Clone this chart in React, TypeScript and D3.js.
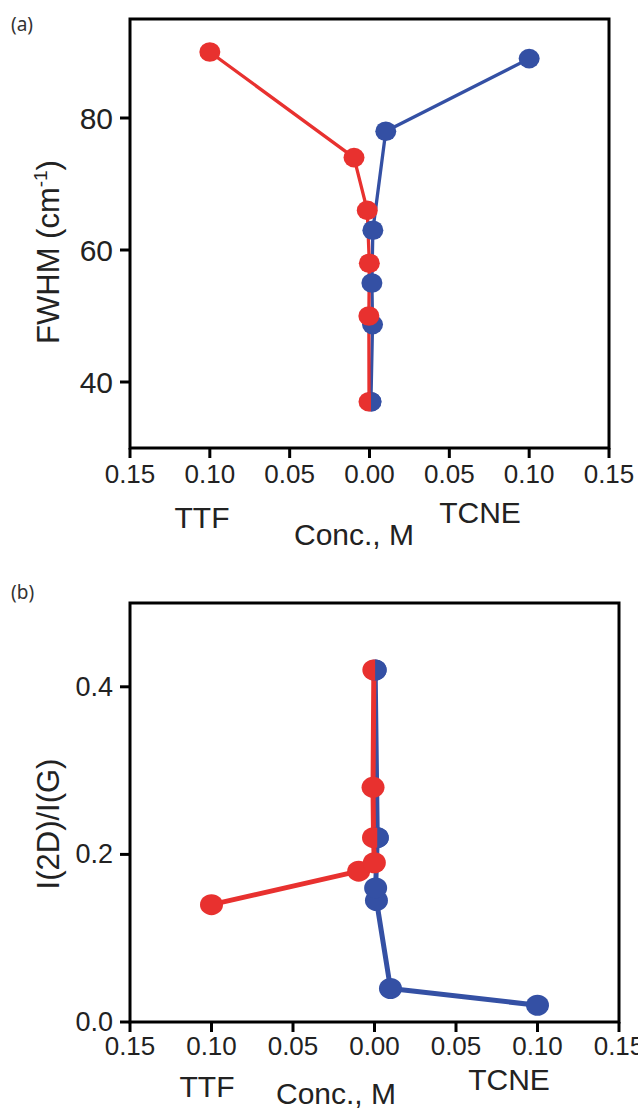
import React from "react";
import * as d3 from "d3";

// ---- Panel (a): FWHM of 2D band vs concentration ----
const ttfConcA = [0.1, 0.0097, 0.0014, 0.0001, 0.0004, 0.0003];
const ttfFwhm = [90, 74, 66, 58, 50, 37];
const tcneConcA = [0.1, 0.0102, 0.0021, 0.0015, 0.0019, 0.0009];
const tcneFwhm = [89, 78, 63, 55, 48.7, 37];
const fwhmTicks = [40, 60, 80];

// ---- Panel (b): I(2D)/I(G) vs concentration ----
const ttfConcB = [0.1, 0.0097, 0.0001, 0.0006, 0.0009, 0.0004];
const ttfRatio = [0.14, 0.18, 0.19, 0.22, 0.28, 0.42];
const tcneConcB = [0.1, 0.0098, 0.0012, 0.0007, 0.0017, 0.0004];
const tcneRatio = [0.02, 0.04, 0.145, 0.16, 0.22, 0.42];
const ratioTicks = [0.0, 0.2, 0.4];

const concTicks = [0, 0.05, 0.1, 0.15];

const RED = "#e8312f";
const BLUE = "#3450a4";
const FONT = "'Liberation Sans', Arial, Helvetica, sans-serif";

type Pt = { c: number; v: number };
const zip = (c: number[], v: number[]): Pt[] => c.map((ci, i) => ({ c: ci, v: v[i] }));

type PanelProps = {
  tag: string;
  tagX: number;
  tagY: number;
  left: number;
  right: number;
  top: number;
  bottom: number;
  yDomain: [number, number];
  yTicks: number[];
  yFmt: (v: number) => string;
  yTickFont: number;
  yLabel: React.ReactNode;
  yLabelX: number;
  yLabelY: number;
  ttf: Pt[];
  tcne: Pt[];
  lineW: number;
  rx: number;
  ry: number;
  xTickBase: number;
  ttfPos: [number, number];
  concPos: [number, number];
  tcnePos: [number, number];
};

function Panel(p: PanelProps) {
  const mid0 = p.left + (p.right - p.left) / 2;
  const ttfX = d3.scaleLinear().domain([0.15, 0]).range([p.left, mid0]);
  const tcneX = d3.scaleLinear().domain([0, 0.15]).range([mid0, p.right]);
  const y = d3.scaleLinear().domain(p.yDomain).range([p.bottom, p.top]);

  const ttfLine = d3
    .line<Pt>()
    .x((d) => ttfX(d.c))
    .y((d) => y(d.v));
  const tcneLine = d3
    .line<Pt>()
    .x((d) => tcneX(d.c))
    .y((d) => y(d.v));

  const fmtX = d3.format(".2f");
  const tickLen = 10;

  // blue points sharing a value with a red point -> drawn as right half over red
  const shared = p.tcne.filter((b) => p.ttf.some((r) => Math.abs(r.v - b.v) < 1e-9));
  const halfPath = (cx: number, cy: number) =>
    `M${cx},${cy - p.ry} A${p.rx},${p.ry} 0 0 1 ${cx},${cy + p.ry} Z`;

  const xTickItems = [
    ...concTicks.map((t) => ({ x: ttfX(t), t, k: "l" + t })),
    ...concTicks.filter((t) => t > 0).map((t) => ({ x: tcneX(t), t, k: "r" + t })),
  ];

  return (
    <g>
      <text x={p.tagX} y={p.tagY} fontFamily="'Noto Sans', 'Open Sans', sans-serif" fontSize={19} fill="#333">
        {p.tag}
      </text>

      {/* data lines */}
      <path d={tcneLine(p.tcne) || ""} fill="none" stroke={BLUE} strokeWidth={p.lineW} strokeLinejoin="round" />
      <path d={ttfLine(p.ttf) || ""} fill="none" stroke={RED} strokeWidth={p.lineW} strokeLinejoin="round" />

      {/* markers */}
      {p.tcne.map((d, i) => (
        <ellipse key={"b" + i} cx={tcneX(d.c)} cy={y(d.v)} rx={p.rx} ry={p.ry} fill={BLUE} />
      ))}
      {p.ttf.map((d, i) => (
        <ellipse key={"r" + i} cx={ttfX(d.c)} cy={y(d.v)} rx={p.rx} ry={p.ry} fill={RED} />
      ))}
      {shared.map((d, i) => (
        <path key={"h" + i} d={halfPath(tcneX(d.c), y(d.v))} fill={BLUE} />
      ))}

      {/* frame */}
      <rect
        x={p.left}
        y={p.top}
        width={p.right - p.left}
        height={p.bottom - p.top}
        fill="none"
        stroke="#000"
        strokeWidth={3}
      />

      {/* y ticks */}
      {p.yTicks.map((t) => (
        <g key={"y" + t}>
          <line x1={p.left - tickLen} x2={p.left} y1={y(t)} y2={y(t)} stroke="#000" strokeWidth={3} />
          <text
            x={p.left - tickLen - 7}
            y={y(t)}
            textAnchor="end"
            dominantBaseline="central"
            fontFamily={FONT}
            fontSize={p.yTickFont}
            fill="#222"
          >
            {p.yFmt(t)}
          </text>
        </g>
      ))}

      {/* x ticks */}
      {xTickItems.map((d) => (
        <g key={d.k}>
          <line x1={d.x} x2={d.x} y1={p.bottom} y2={p.bottom + tickLen} stroke="#000" strokeWidth={3} />
          <text x={d.x} y={p.xTickBase} textAnchor="middle" fontFamily={FONT} fontSize={26} fill="#222">
            {fmtX(d.t)}
          </text>
        </g>
      ))}

      {/* axis titles */}
      <text x={p.ttfPos[0]} y={p.ttfPos[1]} textAnchor="middle" fontFamily={FONT} fontSize={30} fill="#222">
        TTF
      </text>
      <text x={p.concPos[0]} y={p.concPos[1]} textAnchor="middle" fontFamily={FONT} fontSize={30} fill="#222">
        Conc., M
      </text>
      <text x={p.tcnePos[0]} y={p.tcnePos[1]} textAnchor="middle" fontFamily={FONT} fontSize={30} fill="#222">
        TCNE
      </text>
      <text
        transform={`translate(${p.yLabelX},${p.yLabelY}) rotate(-90)`}
        textAnchor="middle"
        fontFamily={FONT}
        fontSize={31}
        fill="#222"
      >
        {p.yLabel}
      </text>
    </g>
  );
}

export default function App() {
  return (
    <svg
      width={638}
      height={1111}
      viewBox="0 0 638 1111"
      style={{ position: "absolute", left: 0, top: 0, background: "#fff" }}
    >
      <rect x={0} y={0} width={638} height={1111} fill="#fff" />
      <Panel
        tag="(a)"
        tagX={11}
        tagY={31}
        left={130}
        right={609}
        top={19}
        bottom={448}
        yDomain={[30, 95]}
        yTicks={fwhmTicks}
        yFmt={(v) => d3.format("d")(v)}
        yTickFont={30}
        yLabel={
          <>
            FWHM (cm
            <tspan fontSize={19} dy={-12}>
              -1
            </tspan>
            <tspan dy={12}>)</tspan>
          </>
        }
        yLabelX={59}
        yLabelY={252}
        ttf={zip(ttfConcA, ttfFwhm)}
        tcne={zip(tcneConcA, tcneFwhm)}
        lineW={3.3}
        rx={10.5}
        ry={9.8}
        xTickBase={483}
        ttfPos={[202, 528]}
        concPos={[354, 545]}
        tcnePos={[480, 523]}
      />
      <Panel
        tag="(b)"
        tagX={11}
        tagY={599}
        left={130}
        right={619}
        top={603}
        bottom={1022}
        yDomain={[0, 0.5]}
        yTicks={ratioTicks}
        yFmt={(v) => d3.format(".1f")(v)}
        yTickFont={27}
        yLabel={<>I(2D)/I(G)</>}
        yLabelX={59}
        yLabelY={824}
        ttf={zip(ttfConcB, ttfRatio)}
        tcne={zip(tcneConcB, tcneRatio)}
        lineW={5}
        rx={11.5}
        ry={10.5}
        xTickBase={1055}
        ttfPos={[207, 1097]}
        concPos={[336, 1104]}
        tcnePos={[509, 1090]}
      />
    </svg>
  );
}
